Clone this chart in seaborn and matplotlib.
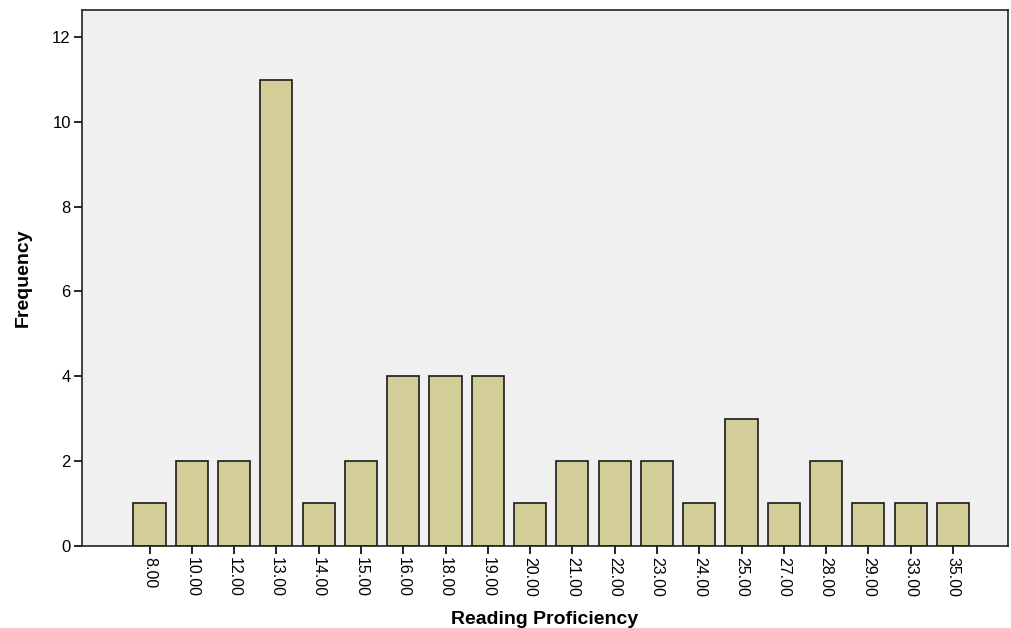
import matplotlib
matplotlib.use("Agg")
import matplotlib.pyplot as plt
import pandas as pd
import seaborn as sns

# ── Data ──────────────────────────────────────────────────────────────────────
scores = [8, 10, 12, 13, 14, 15, 16, 18, 19, 20,
          21, 22, 23, 24, 25, 27, 28, 29, 33, 35]
freqs = [1, 2, 2, 11, 1, 2, 4, 4, 4, 1,
         2, 2, 2, 1, 3, 1, 2, 1, 1, 1]
score_labels = [f"{s:.2f}" for s in scores]

df = pd.DataFrame({"score": score_labels, "freq": freqs})

sns.set_theme(style="ticks")
plt.rcParams["font.family"] = ["Liberation Sans", "DejaVu Sans"]
plt.rcParams["text.color"] = "black"
plt.rcParams["xtick.color"] = "black"
plt.rcParams["ytick.color"] = "black"
plt.rcParams["axes.labelcolor"] = "black"

fig = plt.figure(figsize=(10.11, 6.28), dpi=100)
ax = fig.add_axes([0.081, 0.131, 0.916, 0.853])
ax.set_facecolor("#F0F0F0")

sns.barplot(data=df, x="score", y="freq", order=score_labels,
            color="#D3CE97", saturation=1, width=0.76,
            edgecolor="#1a1a1a", linewidth=1.2, ax=ax)

ax.set_xlim(-1.6, len(scores) - 1 + 1.3)
ax.set_ylim(0, 12.64)
ax.set_yticks(range(0, 13, 2))

ax.tick_params(axis="x", rotation=270, labelsize=11.5, length=6, width=1.2,
               direction="out", colors="black", pad=2)
ax.tick_params(axis="y", labelsize=12, length=6, width=1.2,
               direction="out", colors="black", pad=2)
for lbl in ax.get_xticklabels():
    lbl.set_va("top")
    lbl.set_ha("center")

for sp in ax.spines.values():
    sp.set_color("#222222")
    sp.set_linewidth(1.2)

ax.set_xlabel("Reading Proficiency", fontsize=14, fontweight="bold", labelpad=10)
ax.set_ylabel("Frequency", fontsize=14, fontweight="bold", labelpad=15)

plt.savefig("out.png", dpi=100)
plt.close()
